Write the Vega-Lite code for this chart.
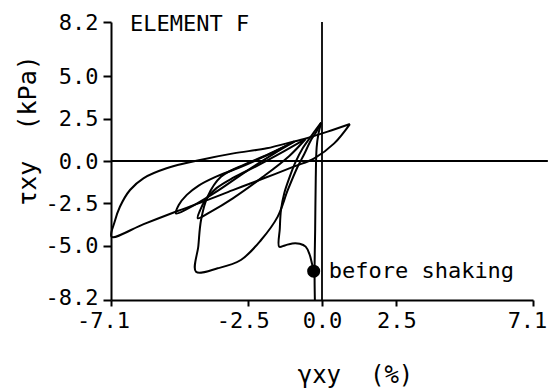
{
  "$schema": "https://vega.github.io/schema/vega-lite/v6.json",
  "width": 422,
  "height": 278,
  "autosize": {"type": "none"},
  "padding": {"left": 111, "top": 22, "right": 18, "bottom": 88},
  "background": "white",
  "config": {
    "view": {"stroke": null},
    "font": "DejaVu Sans Mono",
    "axis": {
      "grid": false,
      "domainColor": "black",
      "domainWidth": 2,
      "tickColor": "black",
      "tickWidth": 2,
      "labelColor": "black",
      "labelFont": "DejaVu Sans Mono",
      "labelFontSize": 22,
      "labelFlush": false,
      "labelOverlap": false,
      "titleColor": "black",
      "titleFont": "DejaVu Sans Mono",
      "titleFontSize": 24,
      "titleFontWeight": "normal"
    }
  },
  "datasets": {
    "curve": [
      {"s": "v", "i": 1, "x": -0.24, "y": -8.2},
      {"s": "v", "i": 2, "x": -0.25, "y": -6.5},
      {"s": "v", "i": 3, "x": -0.23, "y": -4.0},
      {"s": "v", "i": 4, "x": -0.21, "y": -1.0},
      {"s": "v", "i": 5, "x": -0.18, "y": 0.8},
      {"s": "v", "i": 6, "x": -0.12, "y": 1.6},
      {"s": "v", "i": 7, "x": -0.03, "y": 2.26},

      {"s": "s", "i": 1, "x": -0.27, "y": -6.5},
      {"s": "s", "i": 2, "x": -0.33, "y": -6.1},
      {"s": "s", "i": 3, "x": -0.42, "y": -5.5},
      {"s": "s", "i": 4, "x": -0.55, "y": -5.05},
      {"s": "s", "i": 5, "x": -0.75, "y": -4.88},
      {"s": "s", "i": 6, "x": -1.0, "y": -4.86},
      {"s": "s", "i": 7, "x": -1.25, "y": -4.98},
      {"s": "s", "i": 8, "x": -1.44, "y": -5.06},
      {"s": "s", "i": 9, "x": -1.42, "y": -4.0},
      {"s": "s", "i": 10, "x": -1.38, "y": -2.89},
      {"s": "s", "i": 11, "x": -1.27, "y": -1.9},
      {"s": "s", "i": 12, "x": -1.1, "y": -1.0},
      {"s": "s", "i": 13, "x": -0.9, "y": -0.1},
      {"s": "s", "i": 14, "x": -0.65, "y": 0.75},
      {"s": "s", "i": 15, "x": -0.35, "y": 1.5},
      {"s": "s", "i": 16, "x": -0.03, "y": 2.26},

      {"s": "d", "i": 1, "x": -0.03, "y": 2.26},
      {"s": "d", "i": 2, "x": -0.2, "y": 1.7},
      {"s": "d", "i": 3, "x": -0.37, "y": 1.24},
      {"s": "d", "i": 4, "x": -0.6, "y": 0.4},
      {"s": "d", "i": 5, "x": -0.82, "y": -0.34},
      {"s": "d", "i": 6, "x": -1.15, "y": -1.71},
      {"s": "d", "i": 7, "x": -1.49, "y": -3.28},
      {"s": "d", "i": 8, "x": -2.05, "y": -4.66},
      {"s": "d", "i": 9, "x": -2.73, "y": -5.84},
      {"s": "d", "i": 10, "x": -3.51, "y": -6.33},
      {"s": "d", "i": 11, "x": -4.24, "y": -6.53},
      {"s": "d", "i": 12, "x": -4.16, "y": -5.0},
      {"s": "d", "i": 13, "x": -4.07, "y": -3.48},
      {"s": "d", "i": 14, "x": -3.85, "y": -2.1},
      {"s": "d", "i": 15, "x": -3.4, "y": -0.93},
      {"s": "d", "i": 16, "x": -2.6, "y": -0.2},
      {"s": "d", "i": 17, "x": -1.8, "y": 0.4},
      {"s": "d", "i": 18, "x": -0.93, "y": 1.14},

      {"s": "b", "i": 1, "x": -0.93, "y": 1.14},
      {"s": "b", "i": 2, "x": -1.6, "y": 0.45},
      {"s": "b", "i": 3, "x": -2.5, "y": -0.55},
      {"s": "b", "i": 4, "x": -3.5, "y": -1.75},
      {"s": "b", "i": 5, "x": -4.3, "y": -2.6},
      {"s": "b", "i": 6, "x": -4.91, "y": -3.09},
      {"s": "b", "i": 7, "x": -4.82, "y": -2.6},
      {"s": "b", "i": 8, "x": -4.55, "y": -2.0},
      {"s": "b", "i": 9, "x": -4.15, "y": -1.45},
      {"s": "b", "i": 10, "x": -3.6, "y": -0.95},
      {"s": "b", "i": 11, "x": -2.8, "y": -0.4},
      {"s": "b", "i": 12, "x": -1.9, "y": 0.3},
      {"s": "b", "i": 13, "x": -0.93, "y": 1.14},

      {"s": "c", "i": 1, "x": -0.55, "y": 1.3},
      {"s": "c", "i": 2, "x": -1.1, "y": 0.3},
      {"s": "c", "i": 3, "x": -2.0, "y": -0.95},
      {"s": "c", "i": 4, "x": -3.0, "y": -2.2},
      {"s": "c", "i": 5, "x": -3.75, "y": -3.0},
      {"s": "c", "i": 6, "x": -4.18, "y": -3.38},
      {"s": "c", "i": 7, "x": -4.1, "y": -2.9},
      {"s": "c", "i": 8, "x": -3.9, "y": -2.25},
      {"s": "c", "i": 9, "x": -3.55, "y": -1.6},
      {"s": "c", "i": 10, "x": -3.0, "y": -1.0},
      {"s": "c", "i": 11, "x": -2.2, "y": -0.3},
      {"s": "c", "i": 12, "x": -1.3, "y": 0.55},
      {"s": "c", "i": 13, "x": -0.55, "y": 1.3},

      {"s": "o", "i": 1, "x": 0.94, "y": 2.18},
      {"s": "o", "i": 2, "x": 0.41, "y": 1.04},
      {"s": "o", "i": 3, "x": -0.26, "y": 0.16},
      {"s": "o", "i": 4, "x": -0.93, "y": -0.32},
      {"s": "o", "i": 5, "x": -2.0, "y": -1.05},
      {"s": "o", "i": 6, "x": -3.0, "y": -1.72},
      {"s": "o", "i": 7, "x": -4.0, "y": -2.4},
      {"s": "o", "i": 8, "x": -4.86, "y": -2.95},
      {"s": "o", "i": 9, "x": -6.0, "y": -3.72},
      {"s": "o", "i": 10, "x": -7.08, "y": -4.47},
      {"s": "o", "i": 11, "x": -6.98, "y": -3.6},
      {"s": "o", "i": 12, "x": -6.8, "y": -2.7},
      {"s": "o", "i": 13, "x": -6.46, "y": -1.71},
      {"s": "o", "i": 14, "x": -6.01, "y": -1.02},
      {"s": "o", "i": 15, "x": -5.23, "y": -0.43},
      {"s": "o", "i": 16, "x": -4.1, "y": 0.06},
      {"s": "o", "i": 17, "x": -2.98, "y": 0.45},
      {"s": "o", "i": 18, "x": -1.86, "y": 0.75},
      {"s": "o", "i": 19, "x": -0.97, "y": 1.14},
      {"s": "o", "i": 20, "x": -0.6, "y": 1.3},
      {"s": "o", "i": 21, "x": 0.19, "y": 1.73},
      {"s": "o", "i": 22, "x": 0.94, "y": 2.18}
    ],
    "hrule": [{"x": -7.1, "x2": 7.6, "y": 0}],
    "vrule": [{"x": 0, "y": -8.2, "y2": 8.2}],
    "start": [{"x": -0.28, "y": -6.5, "label": "before shaking"}],
    "corner": [{"x": -7.1, "y": 8.2, "label": "ELEMENT F"}]
  },
  "layer": [
    {
      "data": {"name": "curve"},
      "mark": {"type": "line", "interpolate": "catmull-rom", "color": "black", "strokeWidth": 2},
      "encoding": {
        "x": {
          "field": "x", "type": "quantitative",
          "scale": {"domain": [-7.1, 7.1], "nice": false, "zero": false},
          "axis": {
            "values": [-7.1, -2.5, 0, 2.5, 7.1],
            "labelExpr": "datum.value < 0 ? '-' + format(-datum.value, '.1f') : format(datum.value, '.1f')",
            "labelOffset": {"expr": "datum.value < -5 ? -8 : (datum.value < -1 ? -5 : (datum.value > 5 ? -6 : 0))"},
            "tickSize": 6,
            "labelPadding": 4,
            "title": "γxy\u00a0\u00a0(%)",
            "titleBaseline": "alphabetic",
            "titleY": 82,
            "titleX": 244,
            "titleAnchor": "middle"
          }
        },
        "y": {
          "field": "y", "type": "quantitative",
          "scale": {"domain": [-8.2, 8.2], "nice": false, "zero": false},
          "axis": {
            "values": [-8.2, -5, -2.5, 0, 2.5, 5, 8.2],
            "labelExpr": "datum.value < 0 ? '-' + format(-datum.value, '.1f') : format(datum.value, '.1f')",
            "labelOffset": {"expr": "datum.value < -8 ? -3 : 0"},
            "tickSize": 8,
            "labelPadding": 5,
            "title": "τxy\u00a0\u00a0(kPa)",
            "titleFontSize": 25,
            "titleX": -84,
            "titleY": 108,
            "titleAlign": "center",
            "titleBaseline": "middle",
            "titleAngle": 270
          }
        },
        "detail": {"field": "s"},
        "order": {"field": "i", "type": "quantitative"}
      }
    },
    {
      "data": {"name": "hrule"},
      "mark": {"type": "rule", "color": "black", "strokeWidth": 1.8},
      "encoding": {
        "x": {"field": "x", "type": "quantitative"},
        "x2": {"field": "x2"},
        "y": {"field": "y", "type": "quantitative"}
      }
    },
    {
      "data": {"name": "vrule"},
      "mark": {"type": "rule", "color": "black", "strokeWidth": 1.8},
      "encoding": {
        "x": {"field": "x", "type": "quantitative"},
        "y": {"field": "y", "type": "quantitative"},
        "y2": {"field": "y2"}
      }
    },
    {
      "data": {"name": "start"},
      "mark": {"type": "point", "filled": true, "color": "black", "size": 170, "opacity": 1},
      "encoding": {
        "x": {"field": "x", "type": "quantitative"},
        "y": {"field": "y", "type": "quantitative"}
      }
    },
    {
      "data": {"name": "start"},
      "mark": {"type": "text", "align": "left", "baseline": "middle", "dx": 15, "fontSize": 22, "font": "DejaVu Sans Mono", "color": "black"},
      "encoding": {
        "x": {"field": "x", "type": "quantitative"},
        "y": {"field": "y", "type": "quantitative"},
        "text": {"field": "label"}
      }
    },
    {
      "data": {"name": "corner"},
      "mark": {"type": "text", "align": "left", "baseline": "middle", "dx": 19, "dy": 2, "fontSize": 22, "font": "DejaVu Sans Mono", "color": "black"},
      "encoding": {
        "x": {"field": "x", "type": "quantitative"},
        "y": {"field": "y", "type": "quantitative"},
        "text": {"field": "label"}
      }
    }
  ]
}
